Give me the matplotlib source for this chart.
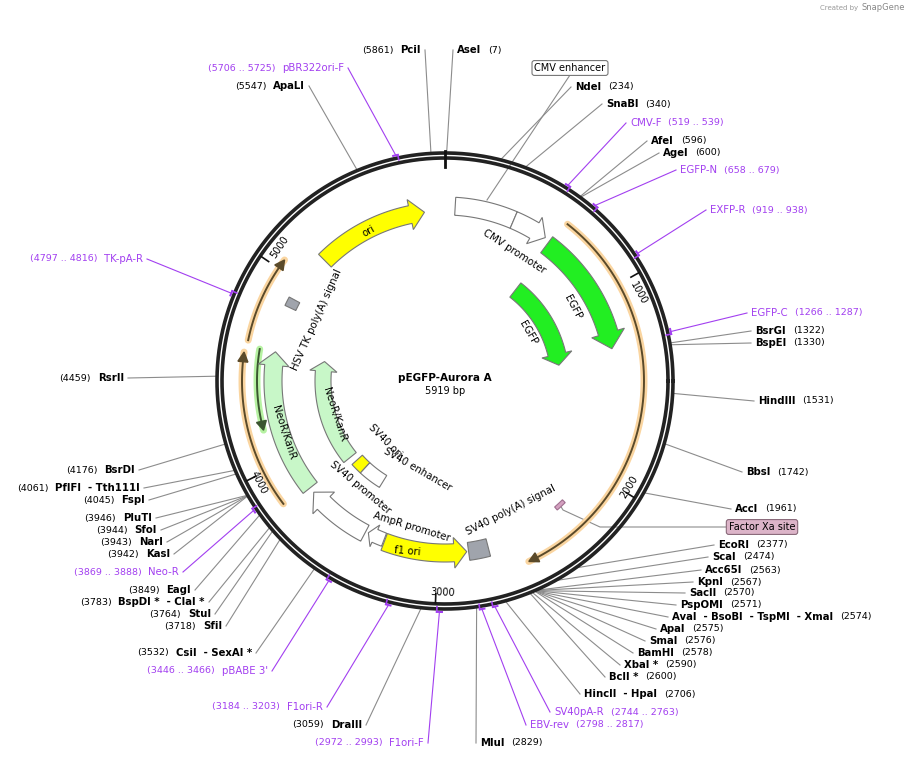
import numpy as np
import matplotlib
matplotlib.use('Agg')
import matplotlib.pyplot as plt
from matplotlib.patches import Polygon

TOTAL = 5919
CX, CY = 445, 381

# restriction sites: name, position
site_names = ['PciI', 'AseI', 'NdeI', 'SnaBI', 'AfeI', 'AgeI', 'BsrGI', 'BspEI', 'HindIII', 'BbsI',
              'AccI', 'EcoRI', 'ScaI', 'Acc65I', 'KpnI', 'SacII', 'PspOMI',
              'AvaI  - BsoBI  - TspMI  - XmaI', 'ApaI', 'SmaI', 'BamHI', 'XbaI *', 'BclI *',
              'HincII  - HpaI', 'MluI', 'DraIII', 'CsiI  - SexAI *', 'SfiI', 'StuI',
              'BspDI *  - ClaI *', 'EagI', 'KasI', 'NarI', 'SfoI', 'PluTI', 'FspI',
              'PflFI  - Tth111I', 'BsrDI', 'RsrII', 'ApaLI']
site_pos = [5861, 7, 234, 340, 596, 600, 1322, 1330, 1531, 1742,
            1961, 2377, 2474, 2563, 2567, 2570, 2571,
            2574, 2575, 2576, 2578, 2590, 2600,
            2706, 2829, 3059, 3532, 3718, 3764,
            3783, 3849, 3942, 3943, 3944, 3946, 4045,
            4061, 4176, 4459, 5547]
# label anchor (x, y) and side
site_anchor = [(421, 50), (457, 50), (575, 87), (606, 104), (651, 141), (663, 153), (755, 331), (755, 343),
               (758, 401), (746, 472), (735, 509), (718, 545), (712, 557), (705, 570), (697, 582),
               (689, 593), (680, 605), (672, 617), (660, 629), (649, 641), (637, 653), (624, 665),
               (609, 677), (584, 694), (480, 743), (362, 725), (252, 653), (222, 626), (211, 614),
               (205, 602), (191, 590), (170, 554), (163, 542), (157, 530), (152, 518), (145, 500),
               (140, 488), (135, 470), (124, 378), (305, 86)]
site_side = ['L', 'R', 'R', 'R', 'R', 'R', 'R', 'R', 'R', 'R', 'R', 'R', 'R', 'R', 'R', 'R', 'R',
             'R', 'R', 'R', 'R', 'R', 'R', 'R', 'R', 'L', 'L', 'L', 'L', 'L', 'L', 'L', 'L', 'L',
             'L', 'L', 'L', 'L', 'L', 'L']

# primers
primer_names = ['CMV-F', 'EGFP-N', 'EXFP-R', 'EGFP-C', 'SV40pA-R', 'EBV-rev', 'F1ori-F', 'F1ori-R',
                "pBABE 3'", 'Neo-R', 'TK-pA-R', 'pBR322ori-F']
primer_start = [519, 658, 919, 1266, 2744, 2798, 2972, 3184, 3446, 3869, 4797, 5706]
primer_end = [539, 679, 938, 1287, 2763, 2817, 2993, 3203, 3466, 3888, 4816, 5725]
primer_anchor = [(630, 123), (680, 170), (710, 210), (751, 313), (554, 712), (530, 725), (424, 743),
                 (323, 707), (268, 671), (179, 572), (143, 259), (344, 68)]
primer_side = ['R', 'R', 'R', 'R', 'R', 'R', 'L', 'L', 'L', 'L', 'L', 'L']

PURPLE = '#a23ff0'
GREY = '#8c8c8c'

fig = plt.figure(figsize=(9.09, 7.6), dpi=100)
ax = fig.add_axes([0, 0, 1, 1])
ax.set_xlim(0, 909)
ax.set_ylim(760, 0)
ax.axis('off')


def xy(pos, r):
    th = np.radians(pos / TOTAL * 360.0)
    return CX + r * np.sin(th), CY - r * np.cos(th)


def arc(p0, p1, r, n=80):
    ps = np.linspace(p0, p1, n)
    x, y = xy(ps, r)
    return list(zip(x, y))


def box_feature(p0, p1, r, w, fc, ec='#777777'):
    pts = arc(p0, p1, r + w / 2) + arc(p1, p0, r - w / 2)
    ax.add_patch(Polygon(pts, closed=True, fc=fc, ec=ec, lw=0.8, zorder=3))


def arrow_feature(tail, tip, r, w, fc, ec='#777777', head=70):
    s = 1 if tip > tail else -1
    ph = tip - s * head
    pts = arc(tail, ph, r + w / 2) + [xy(ph, r + w * 0.85), xy(tip, r), xy(ph, r - w * 0.85)] + arc(ph, tail, r - w / 2)
    ax.add_patch(Polygon(pts, closed=True, fc=fc, ec=ec, lw=0.8, zorder=3))


def orf_arc(tail, tip, r, glow, core, head=45):
    s = 1 if tip > tail else -1
    ph = tip - s * head
    pts = np.array(arc(tail, tip, r))
    ax.plot(pts[:, 0], pts[:, 1], color=glow, lw=5, solid_capstyle='round', zorder=2)
    pts = np.array(arc(tail, ph, r))
    ax.plot(pts[:, 0], pts[:, 1], color=core, lw=1.4, zorder=3)
    ax.add_patch(Polygon([xy(ph, r + 5), xy(tip, r), xy(ph, r - 5)], closed=True, fc=core, ec=core, zorder=3))


# backbone
th = np.linspace(0, 2 * np.pi, 400)
for rr in (228, 223):
    ax.plot(CX + rr * np.cos(th), CY + rr * np.sin(th), color='#222222', lw=2.6, zorder=4)
ax.plot([CX, CX], [CY - 230, CY - 214], color='#111111', lw=2, zorder=5)

# ticks
for k in (1000, 2000, 3000, 4000, 5000):
    x0, y0 = xy(k, 222)
    x1, y1 = xy(k, 213)
    ax.plot([x0, x1], [y0, y1], color='#111111', lw=1.2, zorder=5)
    ang = k / TOTAL * 360
    rot = -ang
    while rot < -90:
        rot += 180
    while rot > 90:
        rot -= 180
    tx, ty = xy(k + 25, 212)
    ax.text(tx, ty, str(k), fontsize=7, rotation=rot, rotation_mode='anchor', ha='left', va='center', zorder=5)

# features
box_feature(55, 380, 175, 18, 'white')
arrow_feature(380, 575, 175, 18, 'white')
arrow_feature(604, 1300, 170, 20, '#22ee22', head=90)
arrow_feature(620, 1350, 115, 18, '#22ee22', head=90)
orf_arc(625, 2550, 199, '#fad5a0', '#5a4a2a')
orf_arc(3827, 4574, 203, '#fad5a0', '#5a4a2a')
orf_arc(4632, 5048, 201, '#fad5a0', '#5a4a2a')
orf_arc(4600, 4190, 188, '#b6f2a2', '#3a5530')
arrow_feature(3808, 4600, 172, 18, '#c8f7c8', head=75)
arrow_feature(3800, 4590, 122, 16, '#c8f7c8', head=75)
arrow_feature(5180, 5805, 170, 18, '#ffff00', head=80)
box_feature(4855, 4905, 171, 12, '#a0a4ac')
box_feature(3660, 3750, 118, 14, '#ffff00')
box_feature(3480, 3660, 118, 14, 'white')
arrow_feature(3416, 3777, 172, 18, 'white', head=80)
arrow_feature(3305, 3400, 170, 14, 'white', head=40)
arrow_feature(3300, 2840, 172, 18, '#ffff00', head=70)
box_feature(2720, 2830, 172, 18, '#a0a4ac')
box_feature(2225, 2285, 169, 4, '#d4a0c0', ec='#a07090')

# feature labels: text, x, y, rotation
flabels = [('CMV promoter', 514, 252, -33), ('EGFP', 573, 307, -62), ('EGFP', 528, 333, -60),
           ('ori', 369, 231, 30), ('HSV TK poly(A) signal', 317, 320, 66), ('NeoR/KanR', 284, 433, -72),
           ('NeoR/KanR', 335, 415, -72), ('SV40 ori', 385, 441, -45), ('SV40 enhancer', 418, 470, -30),
           ('SV40 promoter', 360, 488, -40), ('AmpR promoter', 412, 527, -17), ('f1 ori', 407, 551, -5),
           ('SV40 poly(A) signal', 511, 510, 27)]
for t, x, y, rot in flabels:
    ax.text(x, y, t, fontsize=7.3, rotation=rot, ha='center', va='center', zorder=6)

# center
ax.text(CX, 378, 'pEGFP-Aurora A', fontsize=7.5, fontweight='bold', ha='center', va='center')
ax.text(CX, 391, '5919 bp', fontsize=7, ha='center', va='center')

# boxed labels
ax.plot([570, 487], [75, 200], color=GREY, lw=0.8, zorder=1)
ax.text(570, 68, 'CMV enhancer', fontsize=7, ha='center', va='center', zorder=6,
        bbox=dict(boxstyle='round,pad=0.25', fc='white', ec='#777777', lw=0.8))
ax.plot([726, 600, 563, 560], [527, 527, 510, 505], color=GREY, lw=0.8, zorder=1)
ax.text(762, 527, 'Factor Xa site', fontsize=7, ha='center', va='center', zorder=6,
        bbox=dict(boxstyle='round,pad=0.25', fc='#dcb4c8', ec='#8a6a7a', lw=0.8))

ax.text(858, 8, 'Created by', fontsize=5, color='#999999', ha='right', va='center')
ax.text(862, 8, 'SnapGene', fontsize=6, color='#888888', ha='left', va='center')

fig.canvas.draw()
renderer = fig.canvas.get_renderer()


def two_part(x, y, name, num, side, color, bold):
    fw = 'bold' if bold else 'normal'
    if side == 'R':
        t = ax.text(x, y, name, fontsize=7.3, fontweight=fw, color=color, ha='left', va='center')
        bb = t.get_window_extent(renderer)
        ax.text(bb.x1 + 7, y, num, fontsize=6.8, color=color, ha='left', va='center')
    else:
        t = ax.text(x, y, name, fontsize=7.3, fontweight=fw, color=color, ha='right', va='center')
        bb = t.get_window_extent(renderer)
        ax.text(bb.x0 - 7, y, num, fontsize=6.8, color=color, ha='right', va='center')


for name, p, (x, y), side in zip(site_names, site_pos, site_anchor, site_side):
    sx, sy = xy(p, 229)
    ex = x - 4 if side == 'R' else x + 4
    ax.plot([sx, ex], [sy, y], color=GREY, lw=0.8, zorder=1)
    two_part(x, y, name, '(%d)' % p, side, 'black', True)

for name, p0, p1, (x, y), side in zip(primer_names, primer_start, primer_end, primer_anchor, primer_side):
    pm = (p0 + p1) / 2
    pts = np.array(arc(p0, p1, 231, 10))
    ax.plot(pts[:, 0], pts[:, 1], color=PURPLE, lw=1.5, zorder=5)
    a, b = xy(p1, 231)
    c, d = xy(p1, 226)
    ax.plot([a, c], [b, d], color=PURPLE, lw=1.2, zorder=5)
    sx, sy = xy(pm, 232)
    ex = x - 4 if side == 'R' else x + 4
    ax.plot([sx, ex], [sy, y], color=PURPLE, lw=0.8, zorder=1)
    two_part(x, y, name, '(%d .. %d)' % (p0, p1), side, PURPLE, False)

fig.savefig('out.png', dpi=100)
